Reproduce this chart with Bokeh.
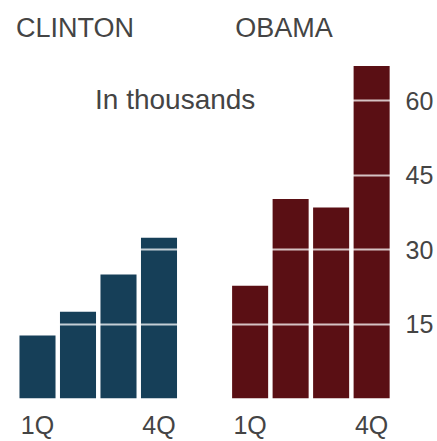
from bokeh.plotting import figure
from bokeh.models import ColumnDataSource, FixedTicker, Label
from bokeh.embed import file_html
from bokeh.resources import INLINE

# ---- data (thousands) ----
quarters = ["1Q", "2Q", "3Q", "4Q"]
clinton = [12.7, 17.5, 25.0, 32.4]
obama = [22.7, 40.2, 38.5, 67.0]
y_ticks = [15, 30, 45, 60]
shown_quarters = {"1Q": "1Q", "4Q": "4Q"}

# ---- layout ----
PITCH = 40.5          # px per slot
FIRST_CENTER = 37     # px of first bar centre
FRAME_W = 398
FRAME_H = 401
OBAMA_OFFSET = 5.25   # slots between group starts
BAR_W = 0.89

CLINTON_COLOR = "#163f58"
OBAMA_COLOR = "#5a0f14"
TEXT_COLOR = "#444444"
FONT = "Liberation Sans"

x0 = -FIRST_CENTER / PITCH
x1 = x0 + FRAME_W / PITCH
y_top = FRAME_H / 5.0

p = figure(width=437, height=441, x_range=(x0, x1), y_range=(0, y_top),
           output_backend="svg", toolbar_location=None,
           y_axis_location="right",
           min_border_left=0, min_border_top=0,
           min_border_right=437 - FRAME_W, min_border_bottom=441 - FRAME_H)
p.outline_line_color = None
p.background_fill_color = "white"
p.border_fill_color = "white"

cx = [i for i in range(len(quarters))]
ox = [i + OBAMA_OFFSET for i in range(len(quarters))]
src_c = ColumnDataSource(dict(x=cx, top=clinton, q=quarters))
src_o = ColumnDataSource(dict(x=ox, top=obama, q=quarters))

p.vbar(x="x", top="top", bottom=0, width=BAR_W, source=src_c,
       fill_color=CLINTON_COLOR, line_color=None)
p.vbar(x="x", top="top", bottom=0, width=BAR_W, source=src_o,
       fill_color=OBAMA_COLOR, line_color=None)

# grid lines drawn over the bars (but under the text labels)
p.xgrid.visible = False
p.ygrid.ticker = FixedTicker(ticks=y_ticks)
p.ygrid.grid_line_color = "white"
p.ygrid.grid_line_alpha = 0.75
p.ygrid.grid_line_width = 2
p.ygrid.level = "guide"

# right axis
ya = p.yaxis[0]
ya.ticker = FixedTicker(ticks=y_ticks)
ya.axis_line_color = None
ya.major_tick_line_color = None
ya.minor_tick_line_color = None
ya.major_tick_out = 0
ya.major_tick_in = 0
ya.major_label_standoff = 7
ya.major_label_text_font = FONT
ya.major_label_text_font_size = "25px"
ya.major_label_text_color = TEXT_COLOR

# bottom axis: only 1Q and 4Q of each group
xt = []
overrides = {}
for xs in (cx, ox):
    for xv, q in zip(xs, quarters):
        if q in shown_quarters:
            xt.append(xv)
            overrides[xv] = shown_quarters[q]
xa = p.xaxis[0]
xa.ticker = FixedTicker(ticks=xt)
xa.major_label_overrides = overrides
xa.axis_line_color = None
xa.major_tick_line_color = None
xa.minor_tick_line_color = None
xa.major_tick_out = 0
xa.major_tick_in = 0
xa.major_label_standoff = 12
xa.major_label_text_font = FONT
xa.major_label_text_font_size = "25px"
xa.major_label_text_color = TEXT_COLOR

# titles
for txt, xv, yv, fs in (("CLINTON", -0.53, 74.6, "27px"),
                        ("OBAMA", OBAMA_OFFSET - 0.37, 74.6, "27px"),
                        ("In thousands", 1.42, 60.2, "28px")):
    p.add_layout(Label(x=xv, y=yv, text=txt, text_font=FONT,
                       text_font_size=fs, text_color=TEXT_COLOR,
                       text_baseline="middle", text_align="left"))

open("out.html", "w").write(file_html(p, INLINE))
